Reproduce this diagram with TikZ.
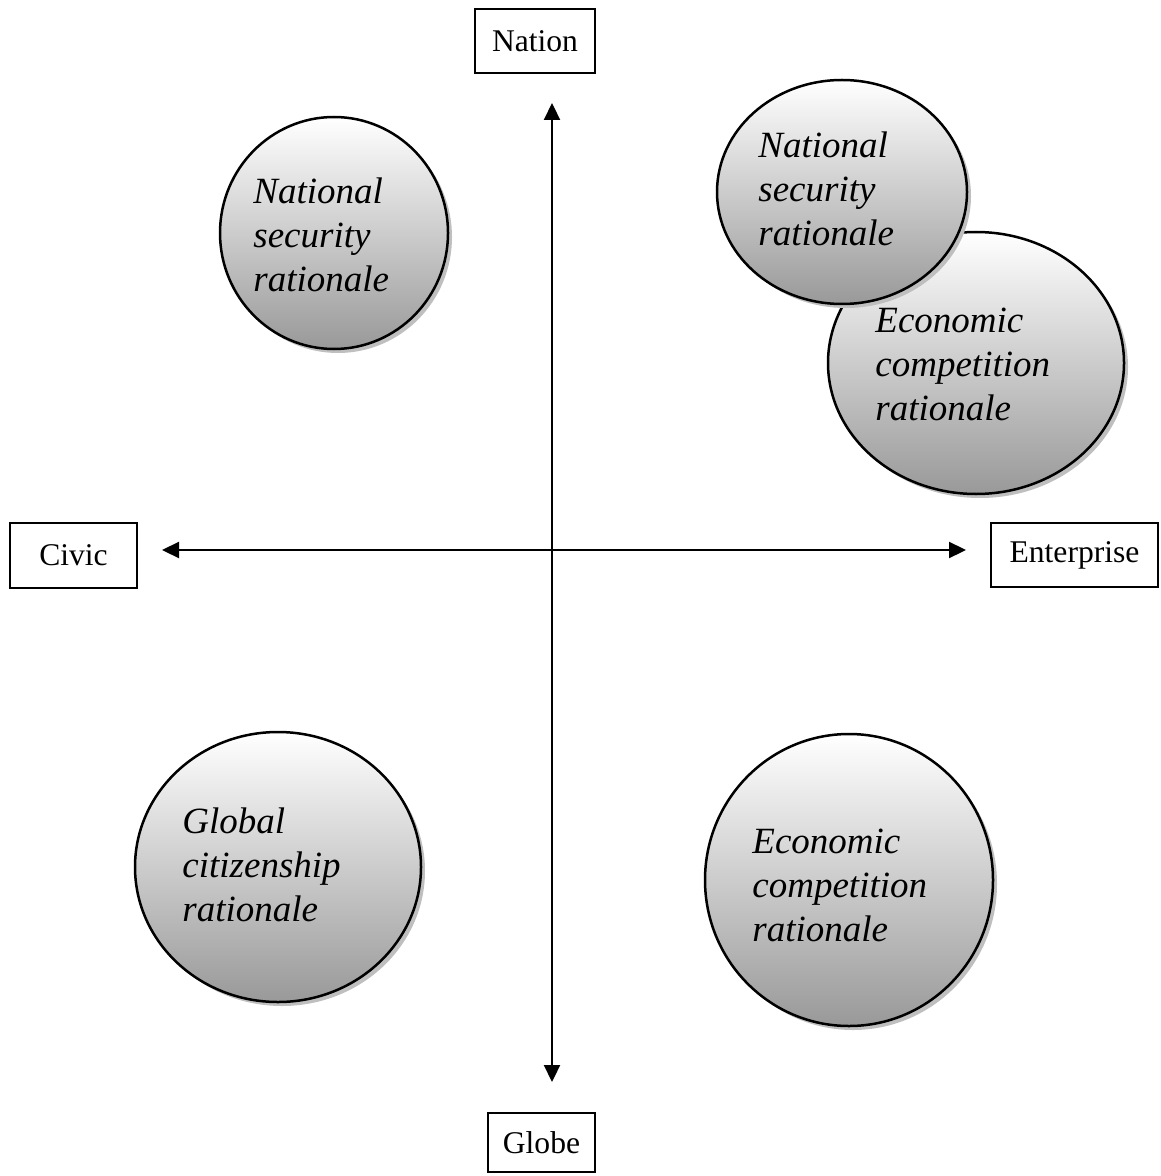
\documentclass[tikz,border=0pt]{standalone}
\usepackage{fontspec}
\setmainfont{Liberation Serif}
\usetikzlibrary{arrows.meta,shapes.geometric,shadows,calc}
\begin{document}
\begin{tikzpicture}[x=0.5pt,y=-0.5pt,
  bubble/.style={ellipse, draw, line width=1.25pt, inner sep=0pt,
    top color=white, bottom color=black!40,
    drop shadow={shadow xshift=2pt, shadow yshift=-2pt, fill=black!25, opacity=1}},
  bubbletext/.style={anchor=west, align=left, inner sep=0pt,
    font=\fontsize{18.5}{22}\selectfont\itshape},
  labelbox/.style={draw, line width=1.1pt, inner sep=0pt,
    font=\fontsize{15.8}{19}\selectfont},
  axisline/.style={line width=1.1pt,
    {Triangle[length=8.5pt,width=8pt]}-{Triangle[length=8.5pt,width=8pt]}}]
\useasboundingbox (0,0) rectangle (1160,1176);

% label boxes
\node[labelbox, minimum width=60pt, minimum height=32pt] (nation) at (535,41) {Nation};
\node[labelbox, minimum width=53.5pt, minimum height=29.5pt] (globe) at (541.5,1142.5) {Globe};
\node[labelbox, minimum width=63.5pt, minimum height=32.5pt] (civic) at (73.5,555.5) {Civic};
\node[labelbox, minimum width=83.5pt, minimum height=32pt] (enterprise) at (1074.5,555) {Enterprise};

% axes
\coordinate (vt) at (552,103);
\coordinate (vb) at (552,1082);
\coordinate (hl) at (162,550);
\coordinate (hr) at (966,550);
\draw[axisline] (vt) -- (vb);
\draw[axisline] (hl) -- (hr);

% bubbles
\node[bubble, minimum width=114pt, minimum height=116pt] (c1) at (334,233) {};
\node[bubble, minimum width=148pt, minimum height=131pt] (c3) at (976,363) {};
\node[bubble, minimum width=125pt, minimum height=112pt] (c2) at (842,192) {};
\node[bubble, minimum width=143pt, minimum height=135pt] (c4) at (278,867) {};
\node[bubble, minimum width=144pt, minimum height=146pt] (c5) at (849,880) {};

\node[bubbletext] (t1) at (253,235) {National\\security\\rationale};
\node[bubbletext] (t2) at (758,189) {National\\security\\rationale};
\node[bubbletext] (t3) at (875,364) {Economic\\competition\\rationale};
\node[bubbletext] (t4) at (182,865) {Global\\citizenship\\rationale};
\node[bubbletext] (t5) at (752,885) {Economic\\competition\\rationale};
\end{tikzpicture}
\end{document}
